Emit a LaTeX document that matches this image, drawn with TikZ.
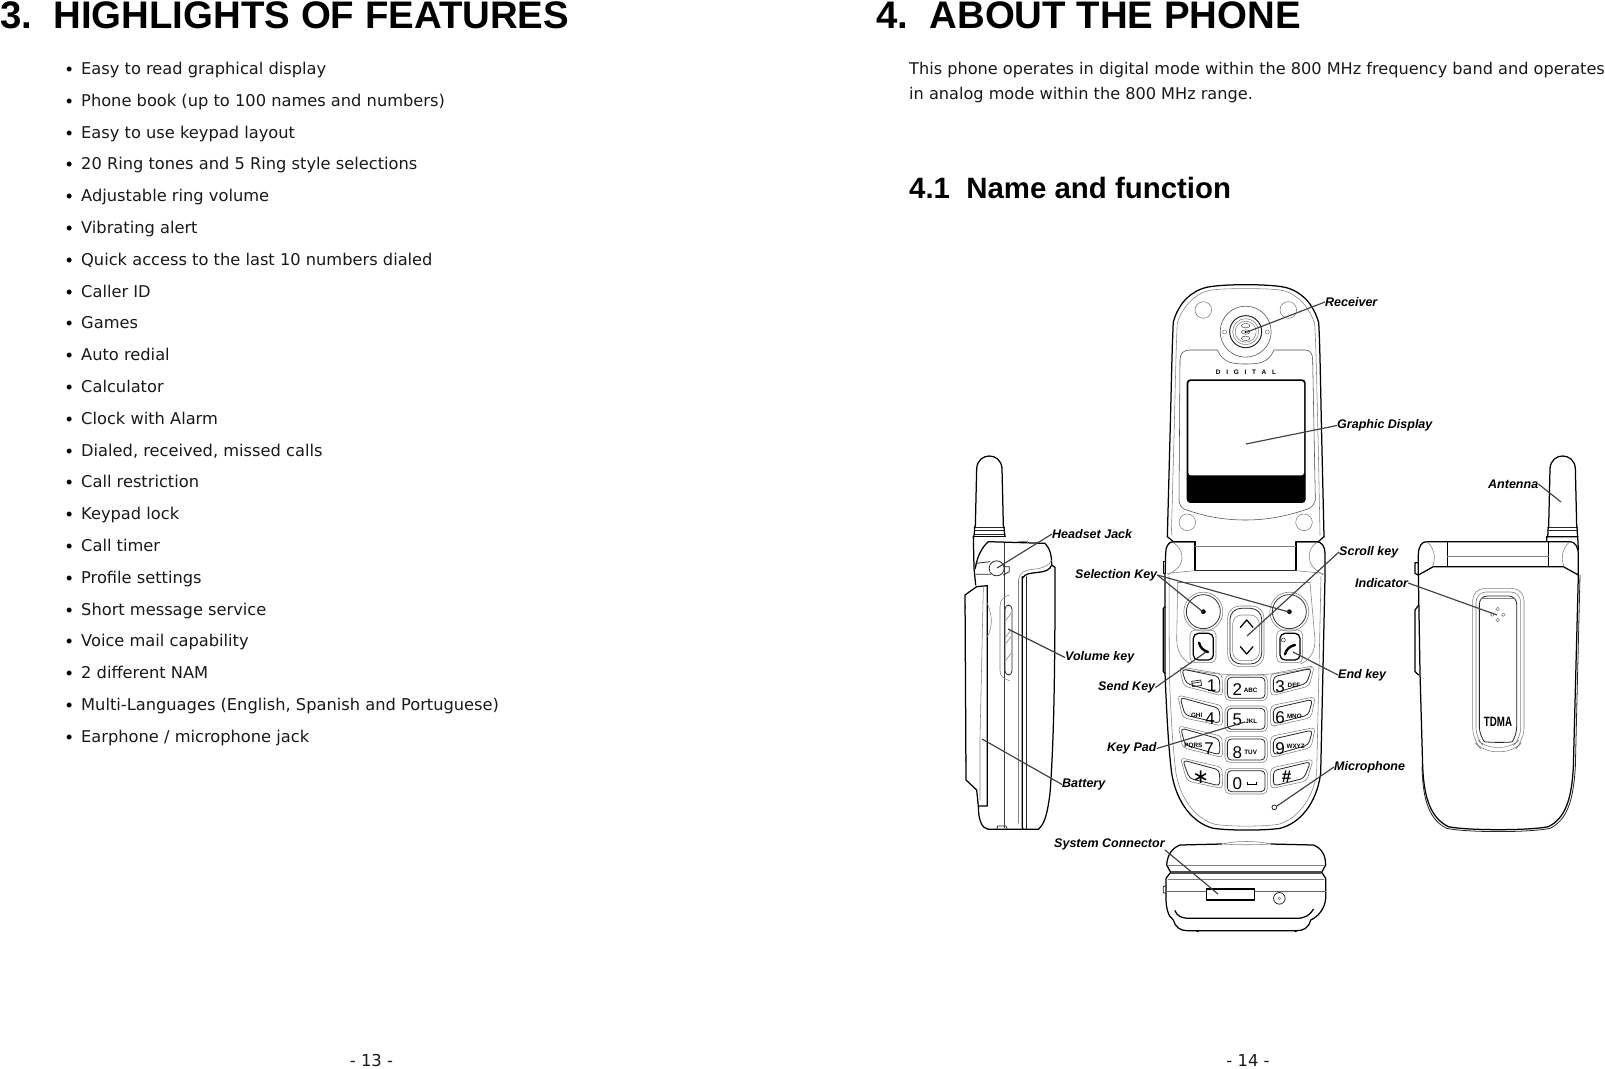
\documentclass[tikz,border=0pt]{standalone}
\usepackage{fontspec}
\setmainfont{DejaVu Sans}
\newfontfamily\arialf{Liberation Sans}
\tikzset{
 zm/.style 2 args={shift={(#1pt,-#2pt)},x=0.33333pt,y=-0.33333pt},
 ol/.style={draw=black,line width=1.25pt,line join=round,line cap=round},
 ol2/.style={draw=black!85,line width=.8pt,line join=round,line cap=round},
 gl/.style={draw=black!50,line width=.55pt,line join=round,line cap=round},
 ldr/.style={draw=black!75,line width=1.15pt},
 lbl/.style={inner sep=0pt,font=\arialf\fontsize{12.5}{14}\bfseries\itshape\selectfont,text=black},
 h1/.style={inner sep=0pt,anchor=base west,font=\arialf\fontsize{38.4}{40}\bfseries\selectfont},
 h2/.style={inner sep=0pt,anchor=base west,font=\arialf\fontsize{29.4}{30}\bfseries\selectfont},
 bodyt/.style={inner sep=0pt,anchor=base west,font=\fontsize{16.13}{18}\selectfont,text=black!90},
 bodyl/.style={inner sep=0pt,anchor=base west,font=\fontsize{16.25}{18}\selectfont,text=black!90},
 bult/.style={inner sep=0pt,anchor=base west,font=\arialf\fontsize{18}{18}\selectfont},
 pgn/.style={inner sep=0pt,anchor=base,font=\fontsize{16.4}{18}\selectfont,text=black!90},
 big/.style={inner sep=0pt,font=\arialf\fontsize{17}{18}\selectfont},
 sml/.style={inner sep=0pt,font=\arialf\fontsize{6.3}{7}\bfseries\selectfont},
}
\begin{document}
\begin{tikzpicture}[x=1pt,y=-1pt]
\useasboundingbox[fill=white] (0,0) rectangle (1605,1068);
% headings and text
\node[h1] (t3) at (0,28.5) {3.\ \ HIGHLIGHTS OF FEATURES};
\node[h1] (t4) at (876,28.5) {4.\ \ ABOUT THE PHONE};
\node[h2] (t41) at (909,198) {4.1\ \ Name and function};
\node[bodyt] (p1) at (909,74) {This phone operates in digital mode within the 800 MHz frequency band and operates};
\node[bodyt] (p2) at (909,99.5) {in analog mode within the 800 MHz range.};
\foreach \n/\y/\t in {a/74/Easy to read graphical display,
 b/106/Phone book (up to 100 names and numbers),
 c/138/Easy to use keypad layout,
 d/169/20 Ring tones and 5 Ring style selections,
 e/201/Adjustable ring volume,
 f/233/Vibrating alert,
 g/265/Quick access to the last 10 numbers dialed,
 h/297/Caller ID,
 i/328/Games,
 j/360/Auto redial,
 k/392/Calculator,
 l/424/Clock with Alarm,
 m/456/{Dialed, received, missed calls},
 n/487/Call restriction,
 o/519/Keypad lock,
 p/551/Call timer,
 q/583/Profile settings,
 r/615/Short message service,
 s/646/Voice mail capability,
 t/678/2 different NAM,
 u/710/{Multi-Languages (English, Spanish and Portuguese)},
 v/742/{Earphone / microphone jack}}{
 \node[bult] (b\n) at (66,\y+1.5) {•};
 \node[bodyl] (i\n) at (81,\y) {\t};
}
\node[pgn] (pg13) at (371.5,1066) {- 13 -};
\node[pgn] (pg14) at (1248,1066) {- 14 -};

% FRONT TOP
\begin{scope}[zm={1130}{270}]
\path[ol] plot[smooth,tension=.55] coordinates {(112,800)(120,500)(128,200)(135,140)(170,85)(230,52)(347,44)(465,52)(525,85)(560,140)(568,200)(575,500)(582,800)};
\path[ol] (112,800)--(130,815)--(195,815) (500,815)--(565,815)--(582,800);
\path[gl] plot[smooth,tension=.55] coordinates {(124,795)(132,500)(140,200)(147,145)(180,95)(235,62)(347,56)(460,62)(515,95)(548,145)(556,200)(564,500)(570,795)};
\foreach \x/\y in {220/120,475/120,172/757,522/757}{\path[gl] (\x,\y) circle[radius=8.3pt];}
\path[gl,draw=black!70] (347,185) circle[radius=25.5pt];
\path[ol2,line width=1pt] (347,185) circle[radius=16pt];
\path[gl] (347,185) circle[radius=13pt];
\path[gl] (347,185) circle[radius=10.5pt];
\foreach \y in {167,186,205}{\path[ol2,line width=.4pt] (347,\y) ellipse[x radius=4.3pt,y radius=2.2pt];}
\path[fill=black] (347,186) circle[radius=1.2pt];
\path[gl] (284,186) circle[radius=2pt] (412,186) circle[radius=2pt];
\path[gl,draw=black!70] (150,270) .. controls (150,250) and (160,240) .. (180,240) -- (262,240) .. controls (280,280) and (310,282) .. (347,282) .. controls (385,282) and (415,280) .. (432,240) -- (525,240) .. controls (540,240) and (548,250) .. (548,270) -- (556,690) .. controls (550,710) and (540,715) .. (530,718) .. controls (460,742) and (400,750) .. (347,750) .. controls (290,750) and (230,742) .. (165,718) .. controls (155,715) and (148,705) .. (147,690) -- cycle;
\path[ol,fill=black,rounded corners=3pt] (172,330) rectangle (525,697);
\path[fill=white,rounded corners=2.5pt] (175,333) -- (522,333) -- (522,616) -- (175,616) -- cycle;
\node[inner sep=0pt,font=\arialf\fontsize{6.5}{7}\bfseries\selectfont] (digi) at (348,307) {D\hspace{5.7pt}I\hspace{5.7pt}G\hspace{5.7pt}I\hspace{5.7pt}T\hspace{5.7pt}A\hspace{5.7pt}L};
\end{scope}

% FRONT BOTTOM
\begin{scope}[zm={1130}{540}]
\path[ol] (195,5) -- (130,5) .. controls (115,5) and (107,20) .. (107,40) -- (105,110) -- (105,400) .. controls (110,520) and (115,620) .. (125,700) .. controls (140,790) and (190,850) .. (250,865) .. controls (300,872) and (400,872) .. (450,865) .. controls (510,850) and (560,790) .. (572,700) -- (585,110) -- (585,40) .. controls (585,20) and (575,5) .. (560,5) -- (498,5);
\path[ol] (195,5)--(195,92) (498,5)--(498,92);
\path[ol2] (195,92)--(498,92);
\path[gl] (195,20)--(498,20);
\path[gl] (130,8) .. controls (150,20) and (165,50) .. (150,75) .. controls (145,85) and (130,95) .. (113,105);
\path[gl] (560,8) .. controls (540,20) and (530,50) .. (545,75) .. controls (550,85) and (565,95) .. (580,105);
\path[gl] (112,100) -- (195,92) (498,92)--(580,100);
\path[gl] (117,110) -- (118,400) .. controls (122,520) and (128,620) .. (138,700) .. controls (152,780) and (200,838) .. (255,853) .. controls (300,860) and (400,860) .. (445,853) .. controls (500,838) and (548,780) .. (560,700) -- (573,110);
\path[gl] (143,127) -- (540,127);
\path[gl] (143,127) -- (140,300) .. controls (142,345) and (165,365) .. (185,372) (540,127) -- (555,300) .. controls (555,345) and (530,365) .. (510,372);
\path[gl] (152,385) .. controls (280,412) and (420,412) .. (545,383);
\path[ol] (100,65)--(100,100)--(105,100) (100,65)--(105,65);
\path[ol] (100,205)--(100,395)--(105,400) (100,205)--(105,200);
% soft keys
\foreach \x in {220,478}{
 \path[gl] (\x,215) circle[radius=19.5pt];
 \path[ol2,draw=black!80] (\x,215) circle[radius=17pt];
 \path[fill=black] (\x,215) circle[radius=2.4pt];
}
% rocker
\path[gl,rounded corners=12pt] (293,198) rectangle (402,380);
\path[ol2,rounded corners=11pt] (300,205) rectangle (395,372);
\path[gl,rounded corners=9pt] (308,225) rectangle (388,362);
\path[ol] (331,262)--(350,240)--(369,262) (331,320)--(350,342)--(369,320);
% send and end
\path[gl,rounded corners=5pt] (180,270) rectangle (258,368);
\path[ol,rounded corners=5pt] (190,280) rectangle (250,360);
\path[gl,rounded corners=5pt] (440,270) rectangle (518,368);
\path[ol,rounded corners=5pt] (450,280) rectangle (510,360);
\path[draw=black,line width=2.4pt,line cap=round] (207,308) .. controls (210,322) and (220,332) .. (234,336);
\path[draw=black,line width=2.4pt,line cap=round] (465,343) .. controls (468,328) and (480,318) .. (495,315);
\path[ol2,line width=.5pt] (460,300) circle[radius=2pt];
% keypad
\foreach \a/\b/\c/\d/\e/\f/\g/\h in {
 155/387/268/410/270/460/168/430,
 150/472/268/505/270/550/165/525,
 152/564/268/597/270/645/165/615,
 158/660/268/690/270/738/178/715}{
 \path[ol2,rounded corners=4pt] (\a,\b)--(\c,\d)--(\e,\f)--(\g,\h)--cycle;
 \path[gl,rounded corners=4pt] (\a-7,\b-7)--(\c+8,\d-8)--(\e+8,\f+8)--(\g-7,\h+8)--cycle;
}
\foreach \a/\b/\c/\d/\e/\f/\g/\h in {
 430/410/545/385/530/430/430/460,
 430/505/548/478/535/525/430/552,
 430/597/548/570/535/615/430/645,
 430/692/542/665/522/715/430/738}{
 \path[ol2,rounded corners=4pt] (\a,\b)--(\c,\d)--(\e,\f)--(\g,\h)--cycle;
 \path[gl,rounded corners=4pt] (\a-8,\b-8)--(\c+8,\d-8)--(\e+8,\f+8)--(\g-8,\h+8)--cycle;
}
\foreach \y in {412,505,597,692}{
 \path[ol2,rounded corners=4pt] (292,\y) rectangle (405,\y+63);
 \path[gl,rounded corners=5pt] (285,\y-7) rectangle (412,\y+70);
}
% key labels
\foreach \n/\x/\y/\t in {d1/245/438/1,d2/322/449/2,d3/450/440/3,d4/240/535/4,d5/322/540/5,d6/450/533/6,d7/237/625/7,d8/322/637/8,d9/450/625/9,d0/322/730/0}{
 \node[big] (\n) at (\x,\y) {\t};
}
\foreach \n/\x/\y/\t in {sa/362/450/ABC,sd/492/437/DEF,sg/200/525/GHI,sj/364/543/JKL,sm/493/530/MNO,sp/190/617/PQRS,st/362/638/TUV,sw/497/618/WXYZ}{
 \node[sml] (\n) at (\x,\y) {\t};
}
\node[inner sep=0pt,font=\fontsize{20}{20}\selectfont] (kstar) at (212,712) {∗};
\node[inner sep=0pt,font=\arialf\fontsize{17}{18}\bfseries\selectfont] (khash) at (470,710) {\#};
\path[draw=black,line width=.6pt] (352,727)--(352,733)--(378,733)--(378,727);
\path[draw=black,line width=.6pt] (185,424)--(212,420)--(215,436)--(188,440)--cycle;
\path[draw=black,line width=.6pt] (185,430)--(212,426);
\path[ol2] (433,802) circle[radius=2.4pt];
\end{scope}

% SIDE VIEW
\begin{scope}[zm={950}{440}]
\path[ol] (76,258) -- (80,85) .. controls (82,60) and (100,48) .. (118,48) .. controls (136,48) and (154,60) .. (156,85) -- (160,258);
\path[ol2] (72,262)--(164,262) (75,270)--(161,270) (72,282)--(164,282);
\path[ol] (75,258) .. controls (72,270) and (74,280) .. (72,290) (161,258) .. controls (164,270) and (162,280) .. (165,290);
\path[ol] (70,290)--(165,290);
\path[ol] (70,290)--(72,385)--(77,435);
\path[ol] (76,385) .. controls (82,345) and (98,320) .. (115,305) -- (285,310) .. controls (300,325) and (305,345) .. (305,375) -- (315,382) -- (315,500) .. controls (314,700) and (312,900) .. (300,1060) .. controls (292,1120) and (285,1150) .. (265,1168) -- (115,1168) .. controls (95,1165) and (85,1140) .. (85,1098);
\path[ol] (45,465) -- (80,440) -- (112,437) -- (112,1098) -- (85,1098) -- (80,1050) -- (48,1020) -- cycle;
\path[gl] (100,440) -- (90,895) (90,895) -- (90,1080);
\path[gl] (112,490) .. controls (128,530) and (128,560) .. (112,590);
\path[draw=black!75,line width=1pt] (163,310)--(163,1165);
\path[ol] (217,410)--(217,1160) .. controls (217,1165) and (218,1168) .. (220,1168);
\path[gl] (205,420)--(205,1150);
\path[ol2] (230,410)--(230,1168);
\path[ol] (217,415) .. controls (225,400) and (240,400) .. (265,397) .. controls (285,395) and (300,390) .. (305,375);
\path[gl] (205,420) .. controls (210,395) and (225,390) .. (250,388) .. controls (280,385) and (300,375) .. (305,360);
\path[gl] (150,500) .. controls (150,480) and (160,470) .. (178,465);
\path[gl] (150,500) -- (150,690) .. controls (150,710) and (160,715) .. (178,722);
\path[ol2,rounded corners=4pt] (165,495) rectangle (186,705);
\path[gl] (168,590)--(183,570) (168,610)--(183,590) (168,540)--(183,520) (168,660)--(183,640);
\path[ol2] (140,385) circle[radius=7.5pt];
\path[fill=white] (120,375) rectangle (130,395);
\path[ol2] (78,370) -- (120,365) (78,403) -- (122,403) (160,380)--(178,380)--(178,395)--(160,405);
\path[gl] (205,303)--(232,303) (232,303)--(232,310);
\path[ol2] (140,1168)--(143,1158)--(168,1158)--(172,1168);
\path[ol2] (45,495)--(45,505) (45,950)--(45,965);
\end{scope}

% BACK VIEW
\begin{scope}[zm={1400}{440}]
\path[ol] (446,258) -- (450,85) .. controls (452,60) and (470,48) .. (488,48) .. controls (506,48) and (524,60) .. (526,85) -- (530,258);
\path[ol2] (443,262)--(533,262) (446,270)--(530,270);
\path[ol] (446,258) .. controls (442,270) and (446,280) .. (443,290) (530,258) .. controls (533,270) and (530,280) .. (533,290);
\path[ol] (440,303)--(440,290)--(533,290)--(535,330);
\path[ol] (55,345) .. controls (55,320) and (65,305) .. (80,305) -- (510,305) .. controls (525,305) and (535,320) .. (535,345) -- (535,405) -- (490,380) -- (100,380) -- (55,405) -- cycle;
\path[ol] (142,305)--(142,380) (446,305)--(446,380);
\path[gl] (142,350)--(446,350);
\path[gl] (80,305) .. controls (100,320) and (110,350) .. (97,380);
\path[gl] (510,305) .. controls (490,320) and (480,350) .. (492,380);
\path[ol] (55,405) -- (60,700) -- (68,980) .. controls (72,1080) and (95,1135) .. (145,1160) .. controls (200,1172) and (390,1172) .. (445,1160) .. controls (495,1135) and (515,1080) .. (520,980) -- (535,405);
\path[ol2] (66,980) .. controls (68,1085) and (90,1140) .. (140,1165) .. controls (200,1178) and (390,1178) .. (450,1165) .. controls (500,1140) and (520,1085) .. (526,980) -- (540,405);
\path[ol] (55,368)--(45,368)--(45,400)--(55,405);
\path[ol] (56,495)--(45,510)--(45,695)--(56,705);
\path[gl,rounded corners=12pt] (218,445) -- (372,445) -- (372,900) -- (340,935) -- (250,935) -- (218,900) -- cycle;
\path[gl,rounded corners=10pt] (228,456) -- (362,456) -- (362,895) -- (335,922) -- (255,922) -- (228,895) -- cycle;
\path[ol2,rounded corners=8pt] (238,468) -- (350,468) -- (350,885) .. controls (335,908) and (255,908) .. (238,885) -- cycle;
\path[gl] (243,475) -- (345,475);
\foreach \x/\y in {293/507,293/540,277/524,310/524}{\path[gl] (\x,\y) circle[radius=1.8pt];}
\node[inner sep=0pt,xscale=.72,font=\arialf\fontsize{13.5}{14}\bfseries\selectfont] (tdma) at (294,847) {TDMA};
\end{scope}

% BOTTOM VIEW
\begin{scope}[zm={1040}{820}]
\path[ol] (692,72) -- (820,75) .. controls (845,85) and (857,105) .. (857,135) -- (845,157) -- (857,175) -- (857,235) .. controls (855,265) and (835,290) .. (812,300) .. controls (805,325) and (790,332) .. (770,332) -- (440,332) .. controls (420,332) and (405,320) .. (400,300) .. controls (385,290) and (378,265) .. (378,235) -- (378,175) -- (392,157) -- (380,135) .. controls (382,105) and (395,85) .. (420,75) -- (545,72);
\path[gl] (545,72) .. controls (590,62) and (650,62) .. (692,72) .. controls (650,75) and (590,75) .. (545,72);
\path[gl] (384,135)--(853,135) (384,177)--(853,177);
\path[draw=black!70,line width=3pt] (392,158)--(843,158);
\path[draw=black!60,line width=1pt] (376,213)--(858,213);
\path[ol] (405,272) .. controls (410,285) and (420,295) .. (450,295) -- (770,295) .. controls (795,295) and (810,285) .. (820,268);
\path[ol,fill=white] (500,207) rectangle (644,240);
\path[ol2] (718,235) circle[radius=5.8pt];
\path[gl] (718,235) circle[radius=1.3pt];
\path[ol2] (378,197)--(370,200)--(370,218)--(378,220);
\path[fill=black] (470,333) rectangle (476,336) (764,333) rectangle (770,336);
\end{scope}

% LABELS AND LEADERS
\node[lbl,anchor=west] (lReceiver) at (1325,302) {Receiver};
\node[lbl,anchor=west] (lGraphic) at (1337,425.5) {Graphic Display};
\node[lbl,anchor=west] (lScroll) at (1339,552) {Scroll key};
\node[lbl,anchor=west] (lIndicator) at (1355,583) {Indicator};
\node[lbl,anchor=west] (lAntenna) at (1488,484) {Antenna};
\node[lbl,anchor=west] (lHeadset) at (1052,534) {Headset Jack};
\node[lbl,anchor=west] (lSelection) at (1075,575) {Selection Key};
\node[lbl,anchor=west] (lVolume) at (1065,657.5) {Volume key};
\node[lbl,anchor=west] (lSend) at (1098,687.5) {Send Key};
\node[lbl,anchor=west] (lPad) at (1107,748.5) {Key Pad};
\node[lbl,anchor=west] (lBattery) at (1062,784.5) {Battery};
\node[lbl,anchor=west] (lSystem) at (1054,844) {System Connector};
\node[lbl,anchor=west] (lEnd) at (1338,675) {End key};
\node[lbl,anchor=west] (lMic) at (1334,767) {Microphone};
\coordinate (cReceiver) at (1247,332);
\coordinate (cGraphic) at (1246,444);
\coordinate (cScroll) at (1247,636);
\coordinate (cSelA) at (1203,612);
\coordinate (cSelB) at (1289,612);
\coordinate (cSend) at (1206,652);
\coordinate (cEnd) at (1293,652);
\coordinate (cPad) at (1245,722);
\coordinate (cMic) at (1277,806);
\coordinate (cAnt) at (1561,502);
\coordinate (cInd) at (1497,615);
\coordinate (cHead) at (997,568);
\coordinate (cVol) at (1008,629);
\coordinate (cBat) at (982,739);
\coordinate (cSys) at (1218,894);
\draw[ldr] (lReceiver.west) -- (cReceiver);
\draw[ldr] (lGraphic.west) -- (cGraphic);
\draw[ldr] (lScroll.west) -- (cScroll);
\draw[ldr] (lSelection.east) -- (cSelA);
\draw[ldr] (lSelection.east) -- (cSelB);
\draw[ldr] (lSend.east) -- (cSend);
\draw[ldr] (lEnd.west) -- (cEnd);
\draw[ldr] (lPad.east) -- (cPad);
\draw[ldr] (lMic.west) -- (cMic);
\draw[ldr] (lAntenna.east) -- (cAnt);
\draw[ldr] (lIndicator.east) -- (cInd);
\draw[ldr] (lHeadset.west) -- (cHead);
\draw[ldr] (lVolume.west) -- (cVol);
\draw[ldr] (lBattery.west) -- (cBat);
\draw[ldr] (lSystem.south east) -- (cSys);
\end{tikzpicture}
\end{document}
